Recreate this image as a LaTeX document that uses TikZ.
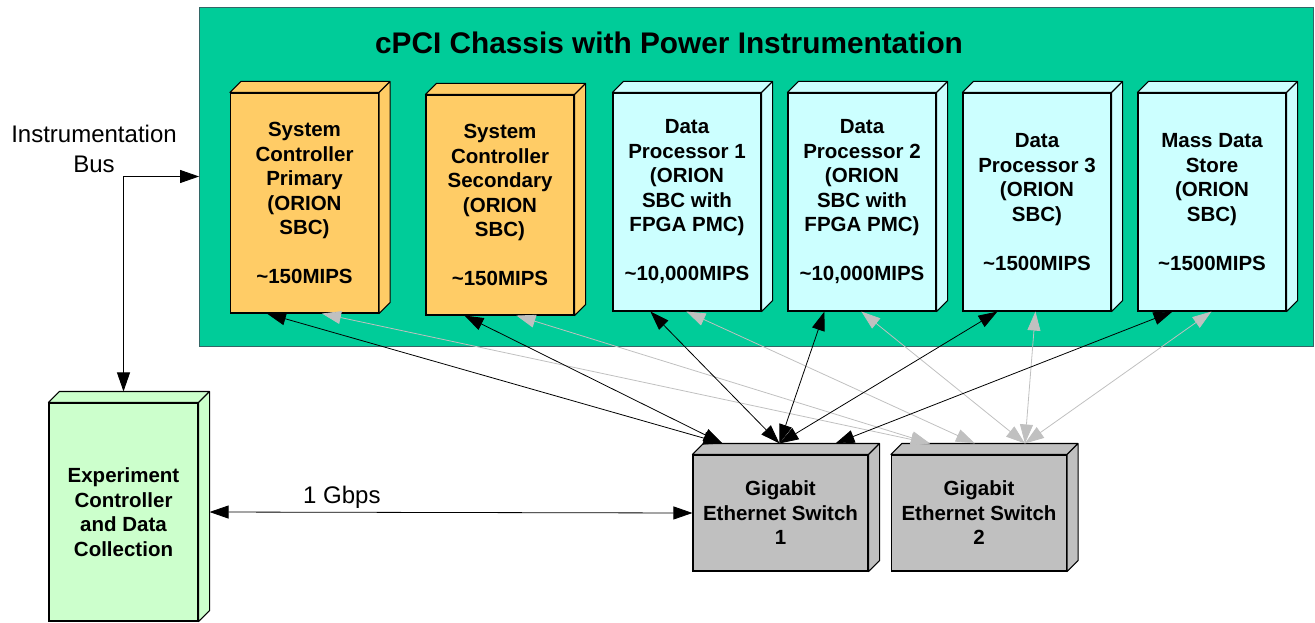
\documentclass[tikz,border=0pt]{standalone}
\usepackage{fontspec}
\setmainfont{Liberation Sans}
\usetikzlibrary{arrows.meta}
\definecolor{chassisgreen}{HTML}{00CC99}
\definecolor{chassisline}{HTML}{336666}
\definecolor{ctrlorange}{HTML}{FFCC66}
\definecolor{proccyan}{HTML}{CCFFFF}
\definecolor{hostgreen}{HTML}{CCFFCC}
\definecolor{switchgray}{HTML}{C0C0C0}
\tikzset{
  card/.style={draw, line width=1.1pt, fill=#1, minimum width=148pt, minimum height=218pt,
    inner sep=0pt, align=center, font=\bfseries\fontsize{20.5}{24.5}\selectfont},
  switchbox/.style={card=switchgray, minimum width=175pt, minimum height=116pt},
  link/.style={line width=0.8pt, {Triangle[length=19pt,width=13pt]}-{Triangle[length=19pt,width=13pt]}},
  graylink/.style={link, switchgray},
  plain/.style={font=\fontsize{24}{30}\selectfont},
}

\begin{document}
\begin{tikzpicture}[x=1pt,y=-1pt]
\useasboundingbox (0,0) rectangle (1315,623);
% chassis
\node[draw=chassisline, line width=0.8pt, fill=chassisgreen, minimum width=1114pt, minimum height=339pt] (chassis) at (756.5,176.5) {};
\node[font=\bfseries\fontsize{29.8}{34}\selectfont] (title) at (669,43) {cPCI Chassis with Power Instrumentation};
% boards
\node[card=ctrlorange, minimum height=220pt] (scp) at (304.5,203) {System\\Controller\\Primary\\(ORION\\SBC)\\[24.5pt]\textasciitilde150MIPS};
\node[card=ctrlorange, minimum height=220pt] (scs) at (500,205) {System\\Controller\\Secondary\\(ORION\\SBC)\\[24.5pt]\textasciitilde150MIPS};
\node[card=proccyan] (dp1) at (687,202) {Data\\Processor 1\\(ORION\\SBC with\\FPGA PMC)\\[24.5pt]\textasciitilde10,000MIPS};
\node[card=proccyan] (dp2) at (862,202) {Data\\Processor 2\\(ORION\\SBC with\\FPGA PMC)\\[24.5pt]\textasciitilde10,000MIPS};
\node[card=proccyan] (dp3) at (1037,202) {Data\\Processor 3\\(ORION\\SBC)\\[24.5pt]\textasciitilde1500MIPS};
\node[card=proccyan] (mds) at (1212,202) {Mass Data\\Store\\(ORION\\SBC)\\[24.5pt]\textasciitilde1500MIPS};
% outside the chassis
\node[card=hostgreen, minimum width=149pt] (ec) at (123.5,512) {Experiment\\Controller\\and Data\\Collection};
\node[switchbox] (sw1) at (780.5,513) {Gigabit\\Ethernet Switch\\1};
\node[switchbox] (sw2) at (979,513) {Gigabit\\Ethernet Switch\\2};
% depth of the boxes
\foreach \n/\c in {scp/ctrlorange, scs/ctrlorange, dp1/proccyan, dp2/proccyan, dp3/proccyan,
    mds/proccyan, ec/hostgreen, sw1/switchgray, sw2/switchgray}
  \filldraw[fill=\c, line width=1.1pt, line join=round] (\n.north west) -- ++(11,-11)
    -- ([shift={(11,-11)}]\n.north east) -- ([shift={(11,-11)}]\n.south east)
    -- (\n.south east) -- (\n.north east) -- cycle (\n.north east) -- ++(11,-11);
\node[plain, align=center] (busname) at (94,149) {Instrumentation\\Bus};
\draw[link] (chassis.west) -| ([yshift=11pt]ec.north);
\draw[link] ([xshift=11pt]ec.east) -- node[pos=0.274, above, plain] (gbps) {1 Gbps} (sw1.west);
% switch 2
\draw[graylink] ([xshift=92pt]scp.south west) -- ([xshift=39pt,yshift=11pt]sw2.north west);
\draw[graylink] ([xshift=91pt]scs.south west) -- ([xshift=39pt,yshift=11pt]sw2.north west);
\draw[graylink] ([xshift=74pt]dp1.south west) -- ([xshift=84pt,yshift=11pt]sw2.north west);
\draw[graylink] ([xshift=74pt]dp2.south west) -- ([xshift=134pt,yshift=11pt]sw2.north west);
\draw[graylink] ([xshift=73pt]dp3.south west) -- ([xshift=134pt,yshift=11pt]sw2.north west);
\draw[graylink] ([xshift=74pt]mds.south west) -- ([xshift=134pt,yshift=11pt]sw2.north west);
% switch 1
\draw[link] ([xshift=37pt]scp.south west) -- ([xshift=30pt,yshift=11pt]sw1.north west);
\draw[link] ([xshift=39pt]scs.south west) -- ([xshift=30pt,yshift=11pt]sw1.north west);
\draw[link] ([xshift=38pt]dp1.south west) -- ([xshift=87pt,yshift=11pt]sw1.north west);
\draw[link] ([xshift=37pt]dp2.south west) -- ([xshift=87pt,yshift=11pt]sw1.north west);
\draw[link] ([xshift=35pt]dp3.south west) -- ([xshift=87pt,yshift=11pt]sw1.north west);
\draw[link] ([xshift=35pt]mds.south west) -- ([xshift=143pt,yshift=11pt]sw1.north west);
\end{tikzpicture}
\end{document}
